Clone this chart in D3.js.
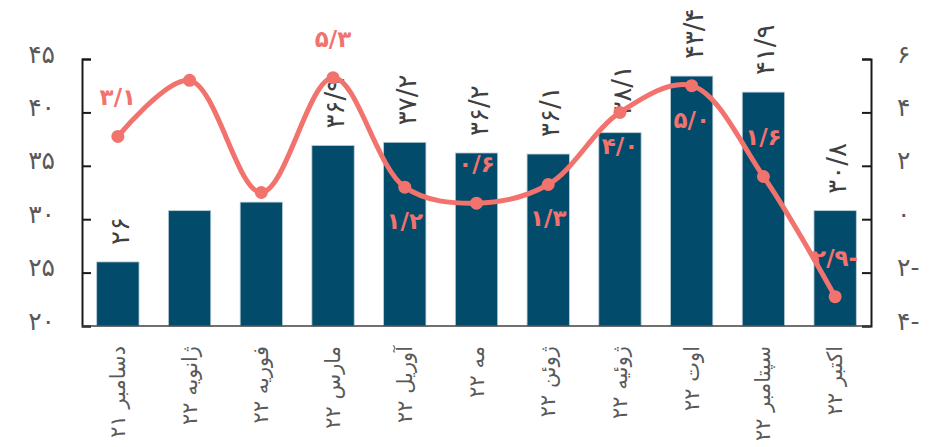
<!DOCTYPE html>
<html>
<head>
<meta charset="utf-8">
<script src="https://cdn.jsdelivr.net/npm/d3@7"></script>
<style>
  html, body { margin: 0; padding: 0; background: #ffffff; }
  svg { display: block; font-family: "DejaVu Sans", sans-serif; }
</style>
</head>
<body>
<svg id="chart" width="932" height="447"></svg>
<script>
// Monthly figures: bars on the left scale, line on the right scale
const categories = [
  "دسامبر ۲۱", "ژانویه ۲۲", "فوریه ۲۲", "مارس ۲۲", "آوریل ۲۲", "مه ۲۲",
  "ژوئن ۲۲", "ژوئیه ۲۲", "اوت ۲۲", "سپتامبر ۲۲", "اکتبر ۲۲"
];
const barValues  = [26, 30.8, 31.6, 36.9, 37.2, 36.2, 36.1, 38.1, 43.4, 41.9, 30.8];
const lineValues = [3.1, 5.2, 1.0, 5.3, 1.2, 0.6, 1.3, 4.0, 5.0, 1.6, -2.9];
const barLabelShown  = [true, false, false, true, true, true, true, true, true, true, true];
const lineLabelShown = [true, false, false, true, true, true, true, true, true, true, true];
const lineLabelPlacement = ["above", "above", "above", "above", "below", "above",
                            "below", "below", "below", "above", "above"];
const leftTicks  = [20, 25, 30, 35, 40, 45];
const rightTicks = [-4, -2, 0, 2, 4, 6];

// Persian digits, "/" as decimal mark, minus sign trailing
const faDigits = "۰۱۲۳۴۵۶۷۸۹";
function fa(v, decimals) {
  const s = decimals == null ? String(Math.abs(v)) : Math.abs(v).toFixed(decimals);
  const body = s.replace(/[0-9]/g, d => faDigits[+d]).replace(".", "/");
  return v < 0 ? body + "-" : body;
}

const svg = d3.select("#chart");
const plot = { left: 82, right: 871, top: 59, bottom: 326 };

const x = d3.scaleBand()
  .domain(categories)
  .range([plot.left, plot.right])
  .paddingInner(0.41)
  .paddingOuter(0.205);
const yL = d3.scaleLinear().domain([20, 45]).range([plot.bottom, plot.top]);
const yR = d3.scaleLinear().domain([-4, 6]).range([plot.bottom, plot.top]);

const barColor = "#034b6b";
const lineColor = "#f2726d";
const axisColor = "#1a1a1a";
const tickText = "#595959";

// bars
svg.append("g").selectAll("rect")
  .data(barValues)
  .join("rect")
  .attr("x", (d, i) => x(categories[i]))
  .attr("width", x.bandwidth())
  .attr("y", d => yL(d))
  .attr("height", d => yL(20) - yL(d))
  .attr("fill", barColor)
  .attr("stroke", "#b9ccd6")
  .attr("stroke-width", 0.8);

// bar value labels, rotated
svg.append("g").selectAll("text")
  .data(barValues.map((v, i) => ({ v, i })).filter(d => barLabelShown[d.i]))
  .join("text")
  .attr("transform", d => `translate(${x(categories[d.i]) + x.bandwidth() / 2 + 2},${yL(d.v) - 17}) rotate(-90)`)
  .attr("text-anchor", "start")
  .attr("dominant-baseline", "central")
  .attr("font-size", 26)
  .attr("fill", "#404040")
  .text(d => fa(d.v));

// axes
const axisL = svg.append("g").attr("transform", `translate(${plot.left},0)`)
  .call(d3.axisRight(yL).tickValues(leftTicks).tickSize(9).tickFormat(""));
const axisR = svg.append("g").attr("transform", `translate(${plot.right},0)`)
  .call(d3.axisLeft(yR).tickValues(rightTicks).tickSize(9).tickFormat(""));
[axisL, axisR].forEach(g => {
  g.select(".domain").attr("stroke", axisColor).attr("stroke-width", 2);
  g.selectAll(".tick line").attr("stroke", axisColor).attr("stroke-width", 2);
});
svg.append("line")
  .attr("x1", plot.left).attr("x2", plot.right)
  .attr("y1", plot.bottom).attr("y2", plot.bottom)
  .attr("stroke", "#404040").attr("stroke-width", 1.5);

// tick labels
svg.append("g").selectAll("text")
  .data(leftTicks).join("text")
  .attr("x", plot.left - 27)
  .attr("y", d => yL(d) - 5)
  .attr("text-anchor", "end")
  .attr("dominant-baseline", "central")
  .attr("font-size", 25)
  .attr("fill", tickText)
  .text(d => fa(d));
svg.append("g").selectAll("text")
  .data(rightTicks).join("text")
  .attr("x", plot.right + 26)
  .attr("y", d => yR(d) - 5)
  .attr("text-anchor", "start")
  .attr("dominant-baseline", "central")
  .attr("font-size", 25)
  .attr("fill", tickText)
  .text(d => fa(d));

// category labels, rotated
svg.append("g").selectAll("text")
  .data(categories).join("text")
  .attr("transform", d => `translate(${x(d) + x.bandwidth() / 2},${plot.bottom + 20}) rotate(-90)`)
  .attr("text-anchor", "end")
  .attr("dominant-baseline", "central")
  .attr("font-size", 21)
  .attr("fill", tickText)
  .text(d => d);

// line series
const pts = lineValues.map((v, i) => [x(categories[i]) + x.bandwidth() / 2, yR(v)]);
svg.append("path")
  .attr("d", d3.line().curve(d3.curveCatmullRom.alpha(0.5))(pts))
  .attr("fill", "none")
  .attr("stroke", lineColor)
  .attr("stroke-width", 5)
  .attr("stroke-linecap", "round");
svg.append("g").selectAll("circle")
  .data(pts).join("circle")
  .attr("cx", d => d[0]).attr("cy", d => d[1])
  .attr("r", 6.5)
  .attr("fill", lineColor);

// line value labels
svg.append("g").selectAll("text")
  .data(lineValues.map((v, i) => ({ v, i })).filter(d => lineLabelShown[d.i]))
  .join("text")
  .attr("x", d => pts[d.i][0])
  .attr("y", d => pts[d.i][1] + (lineLabelPlacement[d.i] === "above" ? -39 : 34))
  .attr("text-anchor", "middle")
  .attr("dominant-baseline", "central")
  .attr("font-size", 23)
  .attr("font-weight", "bold")
  .attr("fill", lineColor)
  .text(d => fa(d.v, 1));
</script>
</body>
</html>
